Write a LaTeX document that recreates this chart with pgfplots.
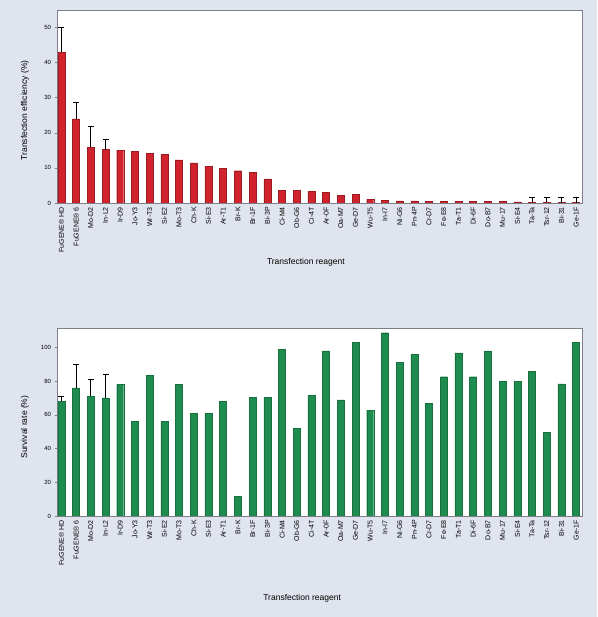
\documentclass[border=0pt]{standalone}
\usepackage{fontspec}
\setmainfont{Liberation Sans}
\usepackage{pgfplots}
\pgfplotsset{compat=1.18}
\usepackage{pgfplotstable}
\definecolor{bg}{HTML}{DFE4EE}
\definecolor{redbar}{HTML}{D0232E}
\definecolor{greenbar}{HTML}{1E8C4E}
\definecolor{frame}{HTML}{7A7F88}

\pgfplotstableread{
x y
0 43
1 24
2 15.9
3 15.2
4 15.1
5 14.7
6 14.2
7 13.8
8 12.3
9 11.4
10 10.4
11 9.9
12 9.2
13 8.8
14 6.9
15 3.7
16 3.7
17 3.4
18 3.1
19 2.2
20 2.4
21 1.1
22 0.7
23 0.6
24 0.6
25 0.5
26 0.5
27 0.5
28 0.4
29 0.4
30 0.4
31 0.3
32 0.2
33 0.2
34 0.1
35 0.1
}\eff

\pgfplotstableread{
x y e
0 43 7
1 24 4.8
2 15.9 5.9
3 15.2 2.8
32 0.2 1.5
33 0.2 1.5
34 0.1 1.5
35 0.1 1.5
}\efferr

\pgfplotstableread{
x y
0 68
1 76
2 71
3 70
4 78
5 56
6 83.6
7 56
8 78
9 61
10 61
11 67.8
12 11.5
13 70.4
14 70.4
15 99
16 52
17 71.7
18 98
19 68.8
20 103
21 62.8
22 108.7
23 91
24 95.8
25 66.8
26 82.6
27 96.8
28 82.6
29 98
30 80
31 80
32 85.6
33 49.6
34 78.3
35 103
}\surv

\pgfplotstableread{
x y e
0 68 3
1 76 14
2 71 10
3 70 14
}\surverr

\pgfplotsset{
  mystyle/.style={
    scale only axis, width=525pt, anchor=south west,
    xmin=-0.3, xmax=35.4,
    xtick={0,...,35},
    xticklabels={{FuGENE® HD},{FuGENE® 6},Mo-D2,In-L2,Ir-D9,Jo-Y3,Wr-T3,Si-E2,Mo-T3,Ch-K,Si-E3,Ar-T1,Br-K,Br-1F,Bi-3P,Ci-M4,Ob-G6,Ci-4T,Ar-0F,Oa-M7,Ge-D7,Wu-T5,In-I7,Ni-G6,Pn-4P,Cr-D7,Fe-E8,Ta-T1,Di-6F,Do-B7,Mu-17,Si-E4,Ta-Ta,Tsr-12,Bi-31,Ge-1F},
    x tick label style={rotate=90, anchor=east, font=\fontsize{7}{8}\selectfont, inner sep=1.5pt},
    y tick label style={font=\fontsize{6}{7}\selectfont},
    /pgf/number format/assume math mode=true,
    axis background/.style={fill=white},
    axis line style={frame, line width=0.9pt},
    xtick style={draw=none},
    ytick style={frame, line width=0.6pt},
    major tick length=2.5pt,
    tick align=outside,
    ytick pos=left,
    label style={font=\fontsize{8.5}{10}\selectfont},
  },
  errs/.style={draw=none, mark=none, forget plot,
    error bars/.cd, y dir=plus, y explicit,
    error bar style={black, line width=0.7pt},
    error mark=-, error mark options={rotate=90, black, line width=0.7pt, mark size=3pt}},
}

\begin{document}
\begin{tikzpicture}[x=1pt,y=1pt]
\fill[bg] (0,0) rectangle (597,617);

\begin{axis}[mystyle, at={(57pt,414pt)}, height=193pt,
  ymin=0, ymax=55, ytick={0,10,...,50},
  ylabel={Transfection efficiency (\%)},
  ylabel style={at={(axis description cs:-0.061,0.48)}, anchor=center},
  xlabel={Transfection reagent},
  xlabel style={at={(axis description cs:0.474,-0.306)}, anchor=center},
]
\addplot[ybar, bar width=7pt, fill=redbar, draw=redbar!75!black] table[x=x,y=y]{\eff};
\addplot[errs] table[x=x,y=y,y error=e]{\efferr};
\end{axis}

\begin{axis}[mystyle, at={(57pt,101pt)}, height=188pt,
  ymin=0, ymax=111.5, ytick={0,20,...,100},
  ylabel={Survival rate (\%)},
  ylabel style={at={(axis description cs:-0.061,0.473)}, anchor=center},
  xlabel={Transfection reagent},
  xlabel style={at={(axis description cs:0.467,-0.436)}, anchor=center},
]
\addplot[ybar, bar width=7pt, fill=greenbar, draw=greenbar!80!black] table[x=x,y=y]{\surv};
\addplot[errs] table[x=x,y=y,y error=e]{\surverr};
\end{axis}

\pgfresetboundingbox
\useasboundingbox (0,0) rectangle (597,617);
\end{tikzpicture}
\end{document}
